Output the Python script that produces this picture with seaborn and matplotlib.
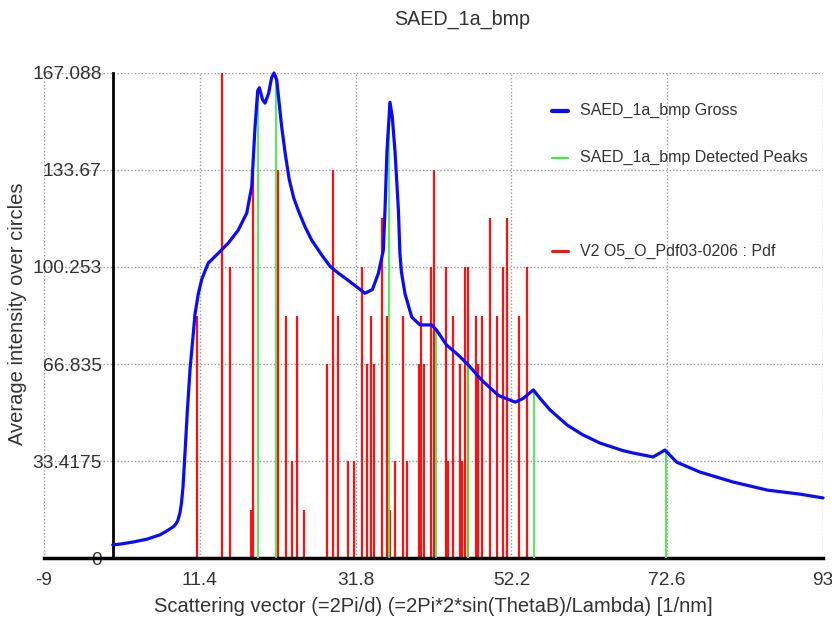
import seaborn as sns
import matplotlib.pyplot as plt
from matplotlib.lines import Line2D

# Gross radial intensity profile
gross_q = [0.0, 1.0, 2.65, 4.5, 6.2, 7.0, 7.9, 8.2, 8.5, 8.8, 9.0, 9.2, 9.5, 9.75,
           10.12, 10.5, 10.77, 11.2, 11.65, 12.5, 13.82, 15.13, 16.44, 17.54, 18.2,
           18.63, 18.98, 19.2, 19.6, 19.94, 20.4, 20.8, 21.12, 21.47, 22.1, 22.6,
           23.1, 23.7, 24.4, 25.2, 26.05, 27.36, 28.45, 29.5, 30.4, 31.94, 33.03,
           34.0, 34.77, 35.43, 35.65, 35.9, 36.3, 36.6, 36.96, 37.4, 37.6, 37.8,
           38.27, 39.15, 40.23, 41.77, 42.4, 43.7, 45.25, 46.56, 48.3, 50.5, 52.7,
           53.76, 55.07, 55.95, 57.26, 59.5, 61.5, 63.8, 66.8, 68.1, 70.75, 72.3,
           73.85, 76.9, 81.2, 85.7, 90.0, 93.0]
gross_i = [4.5, 4.8, 5.5, 6.5, 8.0, 9.2, 10.7, 11.5, 12.8, 15.5, 19.0, 24.5, 38.0, 50.0,
           65.0, 76.0, 84.0, 91.0, 96.0, 101.6, 105.0, 108.5, 113.0, 118.8, 128.0,
           148.5, 161.0, 162.0, 158.0, 156.7, 160.0, 165.5, 167.088, 164.7, 149.0,
           139.0, 130.5, 124.0, 119.0, 114.0, 109.5, 104.4, 100.5, 98.2, 96.5, 93.4,
           91.2, 92.5, 98.0, 106.0, 120.0, 140.0, 157.0, 152.0, 140.0, 120.0, 105.0,
           98.5, 91.0, 83.0, 80.3, 80.3, 78.5, 73.4, 69.9, 66.5, 61.3, 56.0, 53.7,
           55.0, 57.9, 55.0, 51.0, 45.8, 42.5, 39.6, 37.0, 36.2, 34.8, 37.2, 33.0,
           29.6, 26.2, 23.4, 22.0, 20.7]

# Detected peaks
peak_q = [19.02, 21.34, 36.2, 42.29, 46.56, 55.2, 72.45]
peak_i = [161.0, 166.0, 156.7, 79.0, 66.5, 57.5, 37.0]

# Reference pattern V2 O5 (Pdf03-0206): positions and relative intensity (%)
pdf_q = [11.07, 14.27, 15.36, 18.07, 18.33, 21.60, 22.65, 23.51, 24.09, 25.08,
         28.02, 28.88, 29.46, 30.85, 31.63, 32.68, 33.25, 33.82, 34.17, 35.30,
         35.87, 36.24, 36.96, 38.05, 38.57, 40.14, 40.36, 40.80, 41.61, 42.11,
         43.64, 43.94, 44.59, 45.51, 45.77, 46.13, 46.56, 47.61, 47.87, 48.39,
         49.44, 50.28, 51.10, 51.59, 53.22, 54.21]
pdf_rel = [50, 100, 60, 10, 80, 80, 50, 20, 50, 10,
           40, 80, 50, 20, 20, 60, 40, 50, 40, 70,
           50, 10, 20, 50, 20, 40, 50, 40, 60, 80,
           60, 20, 50, 40, 20, 60, 60, 50, 40, 50,
           70, 50, 60, 70, 50, 60]

y_max = 167.088
y_ticks = [0, 33.4175, 66.835, 100.253, 133.67, 167.088]
y_ticklabels = ["0", "33.4175", "66.835", "100.253", "133.67", "167.088"]
x_ticks = [-9, 11.4, 31.8, 52.2, 72.6, 93]
x_ticklabels = ["-9", "11.4", "31.8", "52.2", "72.6", "93"]

sns.set_style("white")
plt.rcParams["font.family"] = ["Liberation Sans", "DejaVu Sans"]

fig = plt.figure(figsize=(8.32, 6.17), dpi=100)
ax = fig.add_axes([0.0529, 0.0956, 0.9363, 0.7861])

pdf_h = [r / 100 * y_max for r in pdf_rel]
ax.vlines(pdf_q, 0, pdf_h, color="#ff1010", lw=1.6, zorder=2)
ax.vlines(peak_q, 0, peak_i, color="#3ef03e", lw=1.3, zorder=3)
sns.lineplot(x=gross_q, y=gross_i, sort=False, color="#0a0aff", lw=2.3, ax=ax,
             zorder=4, clip_on=False)

ax.set_xlim(-9, 93)
ax.set_ylim(0, y_max)
ax.set_xticks(x_ticks, x_ticklabels)
ax.set_yticks(y_ticks, y_ticklabels)
ax.grid(True, color="#9a9a9a", linestyle=(0, (1, 1.5)), lw=1)

for s in ["top", "right"]:
    ax.spines[s].set_visible(False)
ax.spines["left"].set_position(("data", 0))
ax.spines["left"].set_linewidth(2)
ax.spines["left"].set_color("black")
ax.spines["bottom"].set_linewidth(2.5)
ax.spines["bottom"].set_color("black")

ax.tick_params(axis="y", direction="out", length=4, width=1.5, pad=4,
               labelsize=13.8, labelcolor="#333333")
ax.tick_params(axis="x", direction="out", length=3, width=2.5, pad=7,
               labelsize=13.8, labelcolor="#333333")

ax.set_xlabel("Scattering vector (=2Pi/d) (=2Pi*2*sin(ThetaB)/Lambda) [1/nm]",
              fontsize=14.5, color="#333333")
ax.xaxis.set_label_coords(0.5, -0.08)
ax.set_ylabel("Average intensity over circles", fontsize=14.5, color="#333333")
ax.yaxis.set_label_coords(-0.022, 0.503)

fig.text(0.555, 0.968, "SAED_1a_bmp", ha="center", va="center",
         fontsize=14.2, color="#333333")

# legend entries, unevenly spaced as in the original
entries = [("SAED_1a_bmp Gross", "#0a0aff", 3.0, 0.922),
           ("SAED_1a_bmp Detected Peaks", "#3ef03e", 1.6, 0.825),
           ("V2 O5_O_Pdf03-0206 : Pdf", "#ff1010", 2.2, 0.633)]
for label, col, lw, yy in entries:
    ax.add_line(Line2D([0.652, 0.673], [yy, yy], transform=ax.transAxes,
                       color=col, lw=lw))
    ax.text(0.688, yy, label, transform=ax.transAxes, va="center", ha="left",
            fontsize=11.5, color="#333333")

fig.savefig("out.png", dpi=100)
